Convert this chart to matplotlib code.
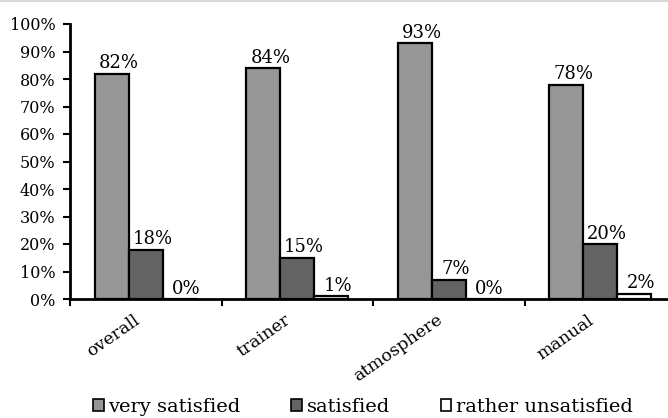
import matplotlib
matplotlib.use("Agg")
import matplotlib.pyplot as plt
import matplotlib.transforms as mtransforms
from matplotlib.lines import Line2D
from matplotlib.patches import Patch
import numpy as np

categories = ["overall", "trainer", "atmosphere", "manual"]
very_satisfied = [82, 84, 93, 78]
satisfied = [18, 15, 7, 20]
rather_unsatisfied = [0, 1, 0, 2]
series_names = ["very satisfied", "satisfied", "rather unsatisfied"]
ytick_labels = [f"{v}%" for v in range(0, 101, 10)]

colors = ["#969696", "#636363", "#ffffff"]

plt.rcParams["font.family"] = ["DejaVu Serif"]

fig = plt.figure(figsize=(6.68, 4.18), dpi=100)
ax = fig.add_axes([70 / 668, 1 - 299 / 418, 606 / 668, 275 / 418])

x = np.arange(len(categories))
width = 0.224
series = [very_satisfied, satisfied, rather_unsatisfied]
for i, (vals, col, name) in enumerate(zip(series, colors, series_names)):
    pos = x + (i - 1) * width
    bars = ax.bar(pos, vals, width=width, color=col, edgecolor="black",
                  linewidth=1.6, label=name, zorder=2)
    for b, v in zip(bars, vals):
        ax.annotate(f"{v}%", (b.get_x() + b.get_width() / 2, v),
                    xytext=(5, 1), textcoords="offset points",
                    ha="center", va="bottom", fontsize=13)

ax.set_xlim(-0.5, len(categories) - 0.5)
ax.set_ylim(0, 100)
ax.set_yticks(range(0, 101, 10))
ax.set_yticklabels(ytick_labels, fontsize=11.5)
ax.set_xticks(x)
ax.set_xticklabels(categories, rotation=35, ha="right", va="top",
                   rotation_mode="anchor", fontsize=12.5)
ax.tick_params(axis="x", which="major", length=0, pad=9)
shift = mtransforms.ScaledTranslation(-13 / 100, 0, fig.dpi_scale_trans)
for lbl in ax.get_xticklabels():
    lbl.set_transform(lbl.get_transform() + shift)
ax.set_xticks(np.arange(-0.5, len(categories), 1.0), minor=True)
ax.tick_params(axis="x", which="minor", length=5, width=1.5, direction="out")
ax.tick_params(axis="y", length=5, width=1.5, direction="out", pad=5.5)

for s in ["top", "right"]:
    ax.spines[s].set_visible(False)
for s in ["left", "bottom"]:
    ax.spines[s].set_linewidth(2)

handles = [Patch(facecolor=c, edgecolor="black", linewidth=1.2) for c in colors]
fig.legend(handles, series_names, loc="center left",
           bbox_to_anchor=(93 / 668, 1 - 407 / 418),
           ncol=3, frameon=False, fontsize=14, handlelength=0.55, handleheight=0.55,
           handletextpad=0.25, columnspacing=2.6, borderpad=0, borderaxespad=0)

fig.add_artist(Line2D([0, 1], [0.998, 0.998], color="#d8d8d8", linewidth=1.5,
                      transform=fig.transFigure))

fig.savefig("out.png", dpi=100)
